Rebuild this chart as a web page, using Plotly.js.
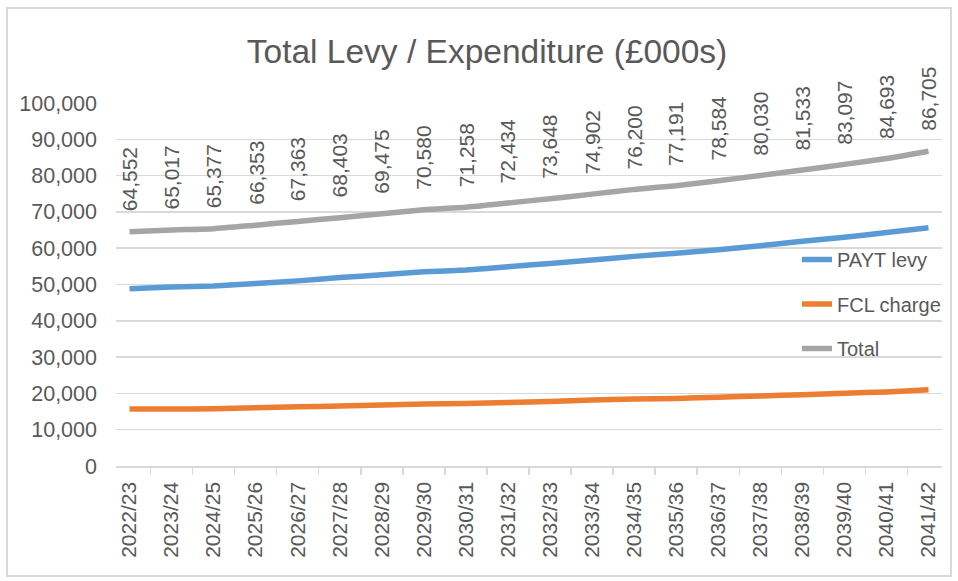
<!DOCTYPE html>
<html>
<head>
<meta charset="utf-8">
<script src="https://cdn.plot.ly/plotly-3.0.1.min.js"></script>
<style>
  html, body { margin: 0; padding: 0; background: #ffffff; }
  #chart { width: 958px; height: 581px; }
</style>
</head>
<body>
<div id="chart"></div>
<script>
const categories = ["2022/23","2023/24","2024/25","2025/26","2026/27","2027/28","2028/29","2029/30","2030/31","2031/32",
                    "2032/33","2033/34","2034/35","2035/36","2036/37","2037/38","2038/39","2039/40","2040/41","2041/42"];
const paytLevy = [48850, 49300, 49600, 50300, 51000, 51900, 52700, 53500, 54000, 54900,
                  55800, 56750, 57750, 58600, 59600, 60700, 61900, 63000, 64300, 65650];
const fclCharge = [15700, 15700, 15750, 16050, 16350, 16500, 16800, 17100, 17250, 17500,
                   17800, 18150, 18450, 18600, 18950, 19300, 19650, 20050, 20400, 21000];
const totalValues = [64552, 65017, 65377, 66353, 67363, 68403, 69475, 70580, 71258, 72434,
                     73648, 74902, 76200, 77191, 78584, 80030, 81533, 83097, 84693, 86705];
const yTickVals = [0, 10000, 20000, 30000, 40000, 50000, 60000, 70000, 80000, 90000, 100000];

const FONT = "'Liberation Sans', Arial, sans-serif";
const TXT = "#595959";
const GRID = "#D9D9D9";

const lineStyle = (color) => ({ color: color, width: 5.5, shape: "spline", smoothing: 0.5 });

const traces = [
  { type: "scatter", mode: "lines", name: "PAYT levy", x: categories, y: paytLevy,
    line: lineStyle("#5B9BD5"), legendgroup: "a", hoverinfo: "x+y+name" },
  { type: "scatter", mode: "lines", name: "FCL charge", x: categories, y: fclCharge,
    line: lineStyle("#ED7D31"), legendgroup: "b", hoverinfo: "x+y+name" },
  { type: "scatter", mode: "lines", name: "Total", x: categories, y: totalValues,
    line: lineStyle("#A5A5A5"), legendgroup: "c", hoverinfo: "x+y+name" }
];

const annotations = categories.map((c, i) => ({
  x: c, y: totalValues[i], xref: "x", yref: "y",
  text: totalValues[i].toLocaleString("en-GB"),
  textangle: -90, showarrow: false,
  xanchor: "center", yanchor: "bottom", yshift: 18,
  font: { family: FONT, size: 21, color: TXT }
}));

// plot area: x 116..942, y 103..466
const L = 116, R = 942, T = 103, B = 466;
const W = R - L, H = B - T;
const px = (p) => (p - L) / W;
const py = (p) => (B - p) / H;

const layout = {
  width: 958, height: 581,
  margin: { l: L, r: 958 - R, t: T, b: 581 - B, pad: 0 },
  paper_bgcolor: "#ffffff", plot_bgcolor: "#ffffff",
  font: { family: FONT, color: TXT, size: 21 },
  title: {
    text: "Total Levy / Expenditure (£000s)",
    font: { family: FONT, size: 33.5, color: TXT },
    xref: "container", yref: "container",
    x: 487 / 958, y: 1 - 51 / 581, xanchor: "center", yanchor: "middle"
  },
  xaxis: {
    type: "category",
    tickangle: -90,
    tickson: "boundaries",
    ticks: "outside", ticklen: 7, tickcolor: GRID, tickwidth: 1.5,
    showline: true, linecolor: GRID, linewidth: 1.5,
    showgrid: false, zeroline: false,
    ticklabelstandoff: 6,
    tickfont: { family: FONT, size: 21, color: TXT },
    fixedrange: true
  },
  yaxis: {
    range: [0, 100000],
    tickvals: yTickVals,
    ticktext: yTickVals.map(v => v.toLocaleString("en-GB")),
    showgrid: true, gridcolor: GRID, gridwidth: 1.5,
    zeroline: false, showline: false, ticks: "",
    ticklabelstandoff: 18,
    tickfont: { family: FONT, size: 21.5, color: TXT },
    fixedrange: true
  },
  showlegend: true,
  legend: {
    x: px(797), y: py(240), xanchor: "left", yanchor: "top",
    bgcolor: "rgba(0,0,0,0)", borderwidth: 0,
    font: { family: FONT, size: 20, color: TXT },
    traceorder: "grouped", tracegroupgap: 15.5,
    itemwidth: 30
  },
  annotations: annotations,
  shapes: [{
    type: "rect", xref: "paper", yref: "paper",
    x0: px(7), x1: px(951), y0: py(576), y1: py(8),
    line: { color: GRID, width: 2 }, fillcolor: "rgba(0,0,0,0)", layer: "below"
  }]
};

Plotly.newPlot("chart", traces, layout, { displayModeBar: false, staticPlot: true });
</script>
</body>
</html>
